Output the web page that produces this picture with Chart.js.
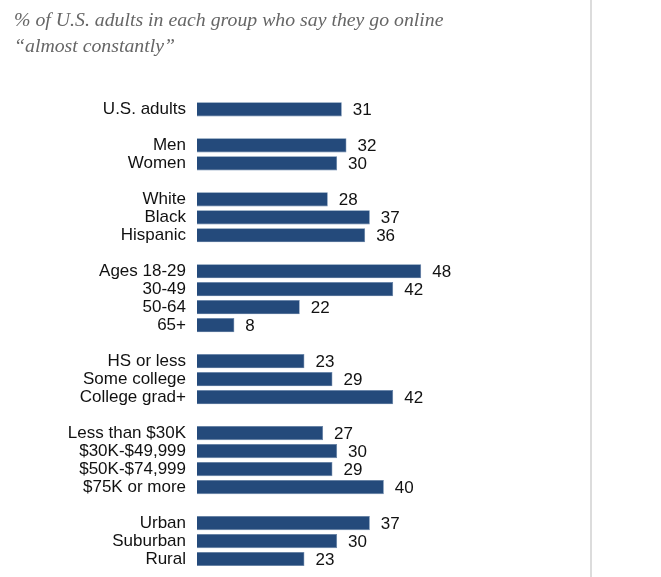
<!DOCTYPE html>
<html lang="en">
<head>
    <meta charset="UTF-8">
    <title>Online almost constantly</title>
    <script src="https://cdn.jsdelivr.net/npm/chart.js"></script>
    <style>
        body { margin: 0; background: #fff; }
        .quadro { position: relative; width: 661px; height: 577px; }
        .grafico { position: absolute; left: 0; top: 0; width: 590px; height: 577px; border-right: 2px solid #dcdcdc; }
    </style>
</head>
<body>
    <div class="quadro">
        <div class="grafico">
            <canvas id="grafico_online"></canvas>
        </div>
    </div>

<script>
    // groups of the chart, one blank row is put between each of them
    const grupo_total = ['U.S. adults'];
    const valores_total = [31];
    const grupo_sexo = ['Men', 'Women'];
    const valores_sexo = [32, 30];
    const grupo_raca = ['White', 'Black', 'Hispanic'];
    const valores_raca = [28, 37, 36];
    const grupo_idade = ['Ages 18-29', '30-49', '50-64', '65+'];
    const valores_idade = [48, 42, 22, 8];
    const grupo_educ = ['HS or less', 'Some college', 'College grad+'];
    const valores_educ = [23, 29, 42];
    const grupo_renda = ['Less than $30K', '$30K-$49,999', '$50K-$74,999', '$75K or more'];
    const valores_renda = [27, 30, 29, 40];
    const grupo_local = ['Urban', 'Suburban', 'Rural'];
    const valores_local = [37, 30, 23];

    const titulo = ['% of U.S. adults in each group who say they go online', '\u201Calmost constantly\u201D'];

    const grupos = [grupo_total, grupo_sexo, grupo_raca, grupo_idade, grupo_educ, grupo_renda, grupo_local];
    const valores = [valores_total, valores_sexo, valores_raca, valores_idade, valores_educ, valores_renda, valores_local];

    var labels = [];
    var dados = [];
    for (var g = 0; g < grupos.length; g++) {
        if (g > 0) { labels.push(''); dados.push(null); }
        for (var i = 0; i < grupos[g].length; i++) {
            labels.push(grupos[g][i]);
            dados.push(valores[g][i]);
        }
    }

    // writes the number right after each bar
    const rotulosValor = {
        id: 'rotulosValor',
        afterDatasetsDraw(chart) {
            const ctx = chart.ctx;
            const meta = chart.getDatasetMeta(0);
            ctx.save();
            ctx.font = '17px "Liberation Sans", Arial, sans-serif';
            ctx.fillStyle = '#111';
            ctx.textAlign = 'left';
            ctx.textBaseline = 'middle';
            meta.data.forEach((barra, i) => {
                if (dados[i] == null) return;
                ctx.fillText(dados[i], barra.x + 11, barra.y + 1);
            });
            ctx.restore();
        }
    };

    const config = {
        type: 'bar',
        data: {
            labels: labels,
            datasets: [{
                data: dados,
                backgroundColor: '#244a7b',
                borderColor: '#5f7fa6',
                borderWidth: 0.6,
                categoryPercentage: 1,
                barPercentage: 0.79
            }]
        },
        options: {
            indexAxis: 'y',
            responsive: true,
            maintainAspectRatio: false,
            animation: false,
            layout: { padding: { left: 14, right: 10, top: 0, bottom: 9 } },
            plugins: {
                legend: { display: false },
                tooltip: { enabled: false },
                title: {
                    display: true,
                    text: titulo,
                    align: 'start',
                    color: '#666',
                    font: { family: '"Liberation Serif", Georgia, serif', size: 19.8, style: 'italic', weight: 'normal', lineHeight: 1.31 },
                    padding: { top: 8, bottom: 40.5 }
                }
            },
            scales: {
                x: { display: false, min: 0, max: 82 },
                y: {
                    grid: { display: false, drawTicks: false },
                    border: { display: false },
                    afterFit(scale) {
                        scale.width = 183;
                        // no extra margin for first/last label
                        scale.paddingTop = 0;
                        scale.paddingBottom = 0;
                    },
                    ticks: {
                        autoSkip: false,
                        padding: 11,
                        color: '#111',
                        font: { family: '"Liberation Sans", Arial, sans-serif', size: 17 }
                    }
                }
            }
        },
        plugins: [rotulosValor]
    };

    var graficoOnline = new Chart(document.getElementById('grafico_online'), config);
</script>
</body>
</html>
